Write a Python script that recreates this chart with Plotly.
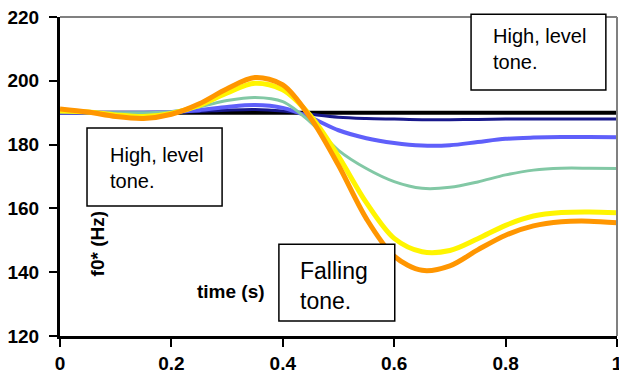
import plotly.graph_objects as go

# ---- data ----
time_s = [0, .05, .1, .15, .2, .25, .3, .35, .4, .45, .5, .55, .6, .65, .7, .75, .8, .85, .9, .95, 1.0]

level_black = [190, 190, 190, 190, 190, 190, 190, 190, 190, 190, 190, 190, 190, 190, 190, 190, 190, 190, 190, 190, 190]
navy_f0 = [190, 190, 190, 190, 190.1, 190.4, 190.8, 191.0, 190.5, 189.5, 188.6, 188.2, 188.0, 187.8, 187.8, 187.9, 188.0, 188.0, 188.0, 188.0, 188.0]
blue_f0 = [190, 190, 190, 190, 190.2, 190.8, 191.8, 192.4, 191.5, 188.5, 184.5, 182.0, 180.5, 179.7, 179.8, 180.8, 181.8, 182.2, 182.4, 182.4, 182.3]
green_f0 = [190.2, 190.2, 190.0, 190.0, 190.3, 191.8, 193.8, 194.8, 193.5, 187.0, 178.2, 172.5, 168.4, 166.3, 166.6, 168.3, 170.5, 172.0, 172.6, 172.6, 172.5]
yellow_f0 = [190.5, 190.2, 189.3, 188.8, 189.8, 192.3, 196.2, 199.2, 197.2, 189.0, 176.3, 161.8, 150.6, 146.4, 146.8, 150.5, 154.7, 157.6, 158.7, 158.9, 158.6]
orange_f0 = [191.2, 190.2, 188.8, 188.2, 189.5, 192.8, 197.5, 201.0, 198.7, 188.3, 173.5, 156.8, 145.0, 140.6, 142.0, 147.0, 151.6, 154.5, 155.8, 156.0, 155.5]

y_ticks = [120, 140, 160, 180, 200, 220]
x_ticks = [0, 0.2, 0.4, 0.6, 0.8, 1.0]
x_tick_labels = ["0", "0.2", "0.4", "0.6", "0.8", "1"]

series = [
    (level_black, "black", 4),
    (navy_f0, "rgb(25,25,140)", 3),
    (blue_f0, "rgb(95,95,250)", 4),
    (green_f0, "rgb(130,200,165)", 3),
    (yellow_f0, "rgb(255,245,0)", 5),
    (orange_f0, "rgb(255,150,0)", 5),
]

fig = go.Figure()
for ys, col, w in series:
    fig.add_trace(go.Scatter(x=time_s, y=ys, mode="lines",
                             line=dict(color=col, width=w, shape="spline", smoothing=0.9),
                             showlegend=False, hoverinfo="skip", cliponaxis=False))

FONT = "Arial, Liberation Sans, sans-serif"

fig.update_layout(
    width=619, height=375,
    margin=dict(l=60, r=2, t=17, b=39, autoexpand=False),
    paper_bgcolor="white", plot_bgcolor="white",
    showlegend=False,
    xaxis=dict(range=[0, 1], tickvals=x_ticks, ticktext=x_tick_labels, automargin=False,
               showgrid=False, zeroline=False, showline=True, linecolor="black", linewidth=3,
               ticks="outside", ticklen=8, tickwidth=2, tickcolor="black",
               tickfont=dict(family=FONT, size=19, color="black", weight="bold"),
               ticklabelstandoff=0, ticklabeloverflow="allow"),
    yaxis=dict(range=[120, 220], tickvals=y_ticks, automargin=False,
               showgrid=False, zeroline=False, showline=True, linecolor="black", linewidth=3,
               ticks="outside", ticklen=8, tickwidth=2, tickcolor="black",
               tickfont=dict(family=FONT, size=19, color="black", weight="bold"),
               ticklabelstandoff=6, ticklabeloverflow="allow"),
)

# gray top & right frame
fig.add_shape(type="line", xref="paper", yref="paper", x0=0, x1=1, y0=1, y1=1,
              line=dict(color="#808080", width=2))
fig.add_shape(type="line", xref="paper", yref="paper", x0=1, x1=1, y0=0, y1=1,
              line=dict(color="#808080", width=2))

# text boxes
boxes = [
    (0.0485, 0.291, 0.4075, 0.652),
    (0.738, 0.980, 0.771, 1.009),
    (0.393, 0.601, 0.047, 0.288),
]
for x0, x1, y0, y1 in boxes:
    fig.add_shape(type="rect", xref="paper", yref="paper", x0=x0, x1=x1, y0=y0, y1=y1,
                  line=dict(color="black", width=1.5), fillcolor="white", layer="above")

texts = [
    ("High, level<br>tone.", 0.086, 0.527, 20),
    ("High, level<br>tone.", 0.774, 0.90, 20),
    ("Falling<br>tone.", 0.428, 0.157, 23),
]
for t, x, y, s in texts:
    fig.add_annotation(text=t, xref="paper", yref="paper", x=x, y=y, xanchor="left", yanchor="middle",
                       align="left", showarrow=False, font=dict(family=FONT, size=s, color="black"))

fig.add_annotation(text="f0* (Hz)", xref="paper", yref="paper", x=0.044, y=0.179, textangle=-90,
                   showarrow=False, font=dict(family=FONT, size=19, color="black", weight="bold"))
fig.add_annotation(text="time (s)", xref="paper", yref="paper", x=0.243, y=0.099,
                   showarrow=False, font=dict(family=FONT, size=19, color="black", weight="bold"))

fig.write_html("out.html", config={"displayModeBar": False},
               post_script="document.body.style.margin='0';document.body.style.overflow='hidden';")
